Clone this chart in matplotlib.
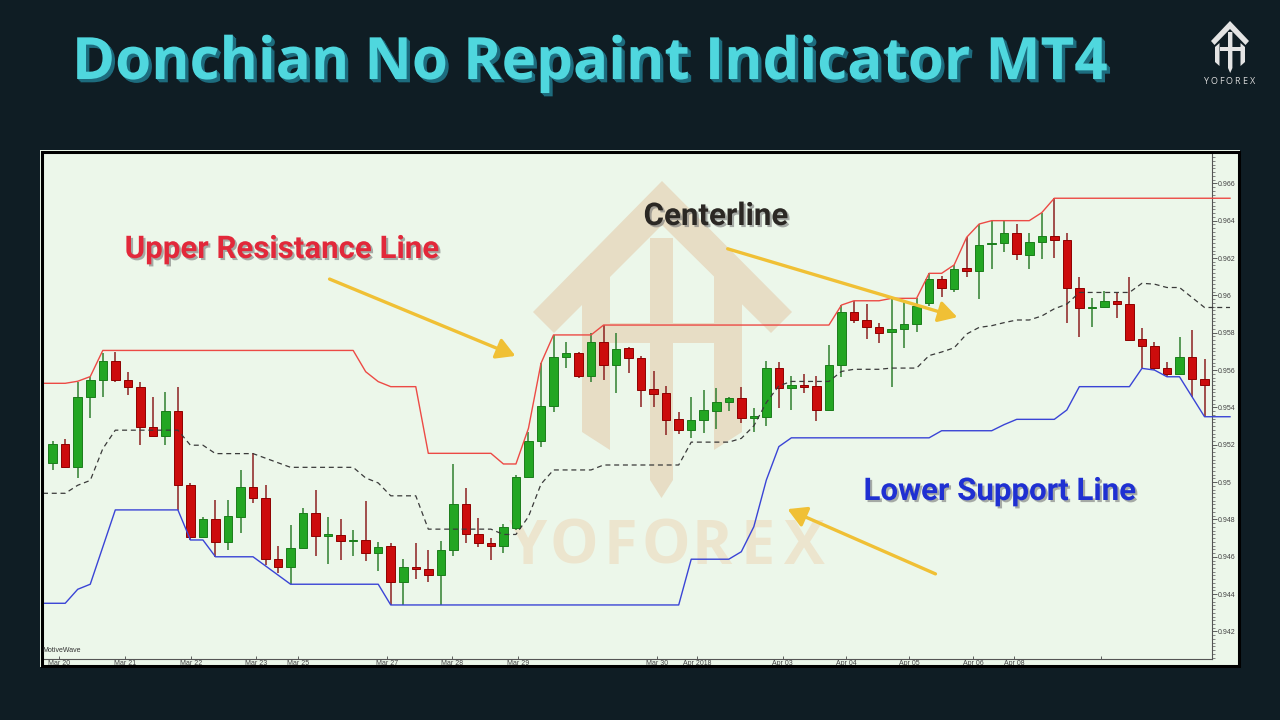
import numpy as np
import matplotlib
matplotlib.use("Agg")
import matplotlib.pyplot as plt
from matplotlib.patches import Rectangle, Polygon, FancyArrowPatch
from matplotlib.ticker import MultipleLocator, FixedLocator, FuncFormatter
import matplotlib.patheffects as pe

# ---------------- data ----------------
opens = [0.95101, 0.95204, 0.95079, 0.95454, 0.95547, 0.95648, 0.95547, 0.95511, 0.95293, 0.95248,
         0.95381, 0.94984, 0.94708, 0.94801, 0.94678, 0.94815, 0.94975, 0.94913, 0.94588, 0.94547,
         0.94645, 0.94833, 0.94711, 0.94717, 0.94682, 0.94690, 0.94619, 0.94658, 0.94463, 0.94545,
         0.94533, 0.94502, 0.94636, 0.94883, 0.94722, 0.94672, 0.94659, 0.94753, 0.95026, 0.95222,
         0.95409, 0.95668, 0.95693, 0.95568, 0.95749, 0.95627, 0.95716, 0.95666, 0.95497, 0.95475,
         0.95336, 0.95279, 0.95332, 0.95382, 0.95427, 0.95449, 0.95342, 0.95350, 0.95609, 0.95502,
         0.95518, 0.95515, 0.95386, 0.95627, 0.95912, 0.95868, 0.95829, 0.95802, 0.95818, 0.95845,
         0.95957, 0.96086, 0.96034, 0.96145, 0.96130, 0.96273, 0.96279, 0.96332, 0.96216, 0.96284,
         0.96319, 0.96296, 0.96041, 0.95934, 0.95939, 0.95971, 0.95952, 0.95765, 0.95730, 0.95609,
         0.95579, 0.95668, 0.95550]
highs = [0.95220, 0.95231, 0.95538, 0.95563, 0.95691, 0.95695, 0.95588, 0.95534, 0.95457, 0.95481,
         0.95508, 0.94994, 0.94811, 0.94904, 0.94904, 0.95065, 0.95154, 0.94984, 0.94658, 0.94770,
         0.94863, 0.94958, 0.94815, 0.94801, 0.94743, 0.94900, 0.94678, 0.94672, 0.94588, 0.94675,
         0.94636, 0.94686, 0.95097, 0.94970, 0.94806, 0.94699, 0.94776, 0.95038, 0.95270, 0.95636,
         0.95788, 0.95752, 0.95695, 0.95797, 0.95841, 0.95797, 0.95725, 0.95675, 0.95595, 0.95515,
         0.95375, 0.95457, 0.95493, 0.95505, 0.95454, 0.95511, 0.95395, 0.95650, 0.95645, 0.95568,
         0.95577, 0.95568, 0.95734, 0.95948, 0.95971, 0.95954, 0.95850, 0.95984, 0.95966, 0.95984,
         0.96118, 0.96104, 0.96163, 0.96311, 0.96382, 0.96400, 0.96400, 0.96382, 0.96335, 0.96443,
         0.96520, 0.96332, 0.96097, 0.95987, 0.96025, 0.96020, 0.96097, 0.95824, 0.95749, 0.95645,
         0.95779, 0.95814, 0.95658]
lows = [0.95065, 0.95075, 0.95020, 0.95345, 0.95454, 0.95534, 0.95466, 0.95199, 0.95245, 0.95199,
        0.94851, 0.94690, 0.94705, 0.94600, 0.94636, 0.94726, 0.94886, 0.94556, 0.94512, 0.94453,
        0.94640, 0.94604, 0.94560, 0.94583, 0.94604, 0.94579, 0.94525, 0.94342, 0.94342, 0.94479,
        0.94467, 0.94342, 0.94604, 0.94672, 0.94651, 0.94583, 0.94622, 0.94743, 0.95020, 0.95190,
        0.95374, 0.95609, 0.95556, 0.95534, 0.95547, 0.95475, 0.95583, 0.95401, 0.95404, 0.95252,
        0.95256, 0.95234, 0.95264, 0.95283, 0.95381, 0.95318, 0.95270, 0.95302, 0.95395, 0.95386,
        0.95479, 0.95329, 0.95382, 0.95564, 0.95850, 0.95766, 0.95746, 0.95508, 0.95716, 0.95805,
        0.95945, 0.95990, 0.96020, 0.96100, 0.95979, 0.96140, 0.96231, 0.96189, 0.96141, 0.96193,
        0.96202, 0.95850, 0.95779, 0.95829, 0.95936, 0.95880, 0.95755, 0.95609, 0.95600, 0.95561,
        0.95577, 0.95457, 0.95350]
closes = [0.95204, 0.95079, 0.95454, 0.95547, 0.95648, 0.95547, 0.95511, 0.95293, 0.95248, 0.95381,
          0.94984, 0.94708, 0.94801, 0.94678, 0.94818, 0.94975, 0.94913, 0.94588, 0.94547, 0.94649,
          0.94833, 0.94711, 0.94722, 0.94686, 0.94690, 0.94619, 0.94654, 0.94463, 0.94544, 0.94533,
          0.94502, 0.94636, 0.94883, 0.94722, 0.94672, 0.94659, 0.94758, 0.95026, 0.95222, 0.95409,
          0.95668, 0.95693, 0.95568, 0.95749, 0.95627, 0.95711, 0.95663, 0.95493, 0.95472, 0.95332,
          0.95279, 0.95332, 0.95386, 0.95427, 0.95449, 0.95342, 0.95354, 0.95609, 0.95502, 0.95518,
          0.95511, 0.95386, 0.95627, 0.95912, 0.95868, 0.95829, 0.95800, 0.95818, 0.95845, 0.95945,
          0.96086, 0.96038, 0.96143, 0.96130, 0.96270, 0.96279, 0.96332, 0.96220, 0.96284, 0.96319,
          0.96296, 0.96041, 0.95931, 0.95939, 0.95971, 0.95952, 0.95761, 0.95730, 0.95609, 0.95577,
          0.95668, 0.95550, 0.95520]
upper_band = [0.95529, 0.95529, 0.95540, 0.95565, 0.95705, 0.95705, 0.95705, 0.95705, 0.95705, 0.95705,
              0.95705, 0.95705, 0.95705, 0.95705, 0.95705, 0.95705, 0.95705, 0.95705, 0.95705, 0.95705,
              0.95705, 0.95705, 0.95705, 0.95705, 0.95705, 0.95591, 0.95538, 0.95511, 0.95511, 0.95511,
              0.95154, 0.95154, 0.95154, 0.95154, 0.95154, 0.95154, 0.95097, 0.95097, 0.95288, 0.95636,
              0.95788, 0.95788, 0.95788, 0.95788, 0.95841, 0.95841, 0.95841, 0.95841, 0.95841, 0.95841,
              0.95841, 0.95841, 0.95841, 0.95841, 0.95841, 0.95841, 0.95841, 0.95841, 0.95841, 0.95841,
              0.95841, 0.95841, 0.95841, 0.95948, 0.95971, 0.95971, 0.95971, 0.95984, 0.95984, 0.95984,
              0.96118, 0.96118, 0.96163, 0.96311, 0.96382, 0.96400, 0.96400, 0.96400, 0.96400, 0.96443,
              0.96520, 0.96520, 0.96520, 0.96520, 0.96520, 0.96520, 0.96520, 0.96520, 0.96520, 0.96520,
              0.96520, 0.96520, 0.96520]
lower_band = [0.94351, 0.94351, 0.94426, 0.94453, 0.94652, 0.94851, 0.94851, 0.94851, 0.94851, 0.94851,
              0.94851, 0.94690, 0.94690, 0.94600, 0.94600, 0.94600, 0.94600, 0.94551, 0.94502, 0.94453,
              0.94453, 0.94453, 0.94453, 0.94453, 0.94453, 0.94453, 0.94453, 0.94342, 0.94342, 0.94342,
              0.94342, 0.94342, 0.94342, 0.94342, 0.94342, 0.94342, 0.94342, 0.94342, 0.94342, 0.94342,
              0.94342, 0.94342, 0.94342, 0.94342, 0.94342, 0.94342, 0.94342, 0.94342, 0.94342, 0.94342,
              0.94342, 0.94587, 0.94587, 0.94587, 0.94587, 0.94627, 0.94761, 0.95011, 0.95190, 0.95237,
              0.95237, 0.95237, 0.95237, 0.95237, 0.95237, 0.95237, 0.95237, 0.95237, 0.95237, 0.95237,
              0.95237, 0.95275, 0.95275, 0.95275, 0.95275, 0.95275, 0.95308, 0.95336, 0.95336, 0.95336,
              0.95336, 0.95386, 0.95511, 0.95511, 0.95511, 0.95511, 0.95511, 0.95609, 0.95600, 0.95564,
              0.95564, 0.95457, 0.95350]
date_ticks = [0.5, 5.78, 11.05, 16.24, 19.6, 26.7, 31.9, 37.2, 48.3, 51.5, 58.3, 63.4, 68.4, 73.5, 76.8, 83.7]
date_labels = ["Mar 20", "Mar 21", "Mar 22", "Mar 23", "Mar 25", "Mar 27", "Mar 28", "Mar 29",
               "Mar 30", "Apr 2018", "Apr 03", "Apr 04", "Apr 05", "Apr 06", "Apr 08", ""]

# ---------------- figure ----------------
W, H = 1280, 720
BG = "#0f1d24"
MINT = "#ecf7ea"
fig = plt.figure(figsize=(12.8, 7.2), dpi=100, facecolor=BG)

# background layer (mint panel + watermark)
bg = fig.add_axes([0, 0, 1, 1], zorder=0)
bg.set_xlim(0, W); bg.set_ylim(H, 0); bg.axis("off")
bg.add_patch(Rectangle((40, 150), 1200, 517, facecolor=MINT, edgecolor="none"))
WM = "#e7ddc5"
bg.add_patch(Polygon([(533, 312), (662, 181), (792, 312), (771, 333), (662, 225), (554, 333)],
                     closed=True, facecolor=WM, edgecolor="none"))
bg.add_patch(Polygon([(582, 302), (610, 274), (610, 450), (582, 432)], closed=True, facecolor=WM, edgecolor="none"))
bg.add_patch(Polygon([(714, 274), (742, 302), (742, 432), (714, 450)], closed=True, facecolor=WM, edgecolor="none"))
bg.add_patch(Polygon([(650, 238), (673, 238), (673, 480), (661.5, 498), (650, 480)], closed=True,
                     facecolor=WM, edgecolor="none"))
bg.add_patch(Rectangle((610, 323), 104, 20, facecolor=WM, edgecolor="none"))
for i, ch in enumerate("YOFOREX"):
    bg.text(528 + i * 46, 548, ch, ha="center", va="center", fontsize=44, fontweight="bold",
            family="Open Sans", color="#ece5ce")

# main chart axes
x0, x1, yt, yb = 43, 1212, 153, 659
ax = fig.add_axes([x0 / W, 1 - yb / H, (x1 - x0) / W, (yb - yt) / H], zorder=1)
ax.set_facecolor("none")
n = len(opens)
idx = np.arange(n)
px_per_bar = 12.52
ax.set_xlim((x0 - 52.7) / px_per_bar, (x1 - 52.7) / px_per_bar)
ax.set_ylim(0.940526, 0.967623)

o = np.array(opens); c = np.array(closes); h = np.array(highs); l = np.array(lows)
up = c >= o
wick_col = np.where(up, "#2f7f2f", "#8c2020")
ax.vlines(idx, l, h, colors=wick_col, linewidth=1.1, zorder=3)
body_bot = np.minimum(o, c)
body_h = np.maximum(np.abs(c - o), 0.00002)
ax.bar(idx[up], body_h[up], bottom=body_bot[up], width=0.68, color="#23a623",
       edgecolor="#1b7d1b", linewidth=0.7, zorder=4)
ax.bar(idx[~up], body_h[~up], bottom=body_bot[~up], width=0.68, color="#cc0c0c",
       edgecolor="#8f0000", linewidth=0.7, zorder=4)

ub = np.array(upper_band); lb = np.array(lower_band)
mid = (ub + lb) / 2
xl = np.concatenate([[(x0 - 52.7) / px_per_bar], idx, [(1230 - 52.7) / px_per_bar]])
def ext(a):
    return np.concatenate([[a[0]], a, [a[-1]]])
ax.plot(xl, ext(ub), color="#ec4a45", lw=1.0, zorder=5, clip_on=False)
ax.plot(xl, ext(lb), color="#3a44d6", lw=1.0, zorder=5, clip_on=False)
ax.plot(xl, ext(mid), color="#3a3a3a", lw=0.9, ls=(0, (4, 3)), zorder=5, clip_on=False)

for s in ["top", "left"]:
    ax.spines[s].set_visible(False)
for s in ["right", "bottom"]:
    ax.spines[s].set_color("#555555")
    ax.spines[s].set_linewidth(0.8)
ax.yaxis.tick_right()
ax.yaxis.set_major_locator(MultipleLocator(0.002))
ax.yaxis.set_minor_locator(MultipleLocator(0.0002))
ax.yaxis.set_major_formatter(FuncFormatter(lambda v, p: f"{v:g}"))
ax.tick_params(axis="y", which="major", direction="out", length=3.5, width=0.6, colors="#444444",
               labelsize=5, pad=1.0)
ax.tick_params(axis="y", which="minor", direction="out", length=1.8, width=0.5, colors="#555555")
for t in ax.get_yticklabels():
    t.set_family("Liberation Sans")
ax.xaxis.set_major_locator(FixedLocator(date_ticks))
ax.set_xticklabels(date_labels, family="Liberation Sans")
ax.tick_params(axis="x", direction="in", length=2.2, width=0.6, colors="#444444", labelsize=5, pad=1.0)

# overlay layer
ov = fig.add_axes([0, 0, 1, 1], zorder=3)
ov.set_xlim(0, W); ov.set_ylim(H, 0); ov.axis("off")
ov.add_patch(Rectangle((0, 667), W, H - 667, facecolor=BG, edgecolor="none"))
ov.add_patch(Rectangle((41.5, 151.5), 1197, 514, fill=False, edgecolor="black", linewidth=2.2))
ov.text(42, 650, "MotiveWave", fontsize=5, family="Liberation Sans", color="#333333", va="center")

# title
shadow_col = "#1d6c7e"
ov.text(590, 64, "Donchian No Repaint Indicator MT4", ha="center", va="center", fontsize=42,
        fontweight="bold", family="Open Sans", color="#4fd7de",
        path_effects=[pe.SimplePatchShadow(offset=(0.8, -0.8), shadow_rgbFace=shadow_col, alpha=1),
                      pe.SimplePatchShadow(offset=(1.6, -1.6), shadow_rgbFace=shadow_col, alpha=1),
                      pe.SimplePatchShadow(offset=(2.4, -2.4), shadow_rgbFace=shadow_col, alpha=1),
                      pe.Normal()])

# annotations
sh = [pe.SimplePatchShadow(offset=(1.5, -1.5), shadow_rgbFace="#777777", alpha=0.6), pe.Normal()]
ov.text(282, 249, "Upper Resistance Line", ha="center", va="center", fontsize=22.5, fontweight="bold",
        family="Roboto", color="#e2283a", path_effects=sh)
ov.text(716, 216, "Centerline", ha="center", va="center", fontsize=22.5, fontweight="bold",
        family="Roboto", color="#2b2824", path_effects=sh)
ov.text(1000, 491, "Lower Support Line", ha="center", va="center", fontsize=22.5, fontweight="bold",
        family="Roboto", color="#1f30d2", path_effects=sh)
for (a, b) in [((327, 278), (518, 357)), ((725, 248), (960, 318)), ((938, 575), (785, 508))]:
    ov.add_patch(FancyArrowPatch(a, b, arrowstyle="-|>,head_length=0.7,head_width=0.4",
                                 mutation_scale=16, color="#f0c035", lw=2.4))

# top-right logo
LG = "#e4e4e4"
ov.add_patch(Polygon([(1211, 41), (1230, 21), (1249, 41), (1245.5, 45), (1230, 29), (1214.5, 45)],
                     closed=True, facecolor=LG, edgecolor="none"))
ov.add_patch(Polygon([(1215, 47), (1219.5, 43), (1219.5, 66), (1215, 62)], closed=True, facecolor=LG, edgecolor="none"))
ov.add_patch(Polygon([(1240.5, 43), (1245, 47), (1245, 62), (1240.5, 66)], closed=True, facecolor=LG, edgecolor="none"))
ov.add_patch(Polygon([(1228, 32), (1232.4, 32), (1232.4, 68), (1230.2, 73), (1228, 68)], closed=True,
                     facecolor=LG, edgecolor="none"))
ov.add_patch(Rectangle((1219.5, 47), 21, 4, facecolor=LG, edgecolor="none"))
for i, ch in enumerate("YOFOREX"):
    ov.text(1206 + i * 7.8, 81.5, ch, ha="center", va="center", fontsize=6.5, family="Open Sans",
            color="#d8d8d8")

fig.savefig("out.png", dpi=100, facecolor=BG)
